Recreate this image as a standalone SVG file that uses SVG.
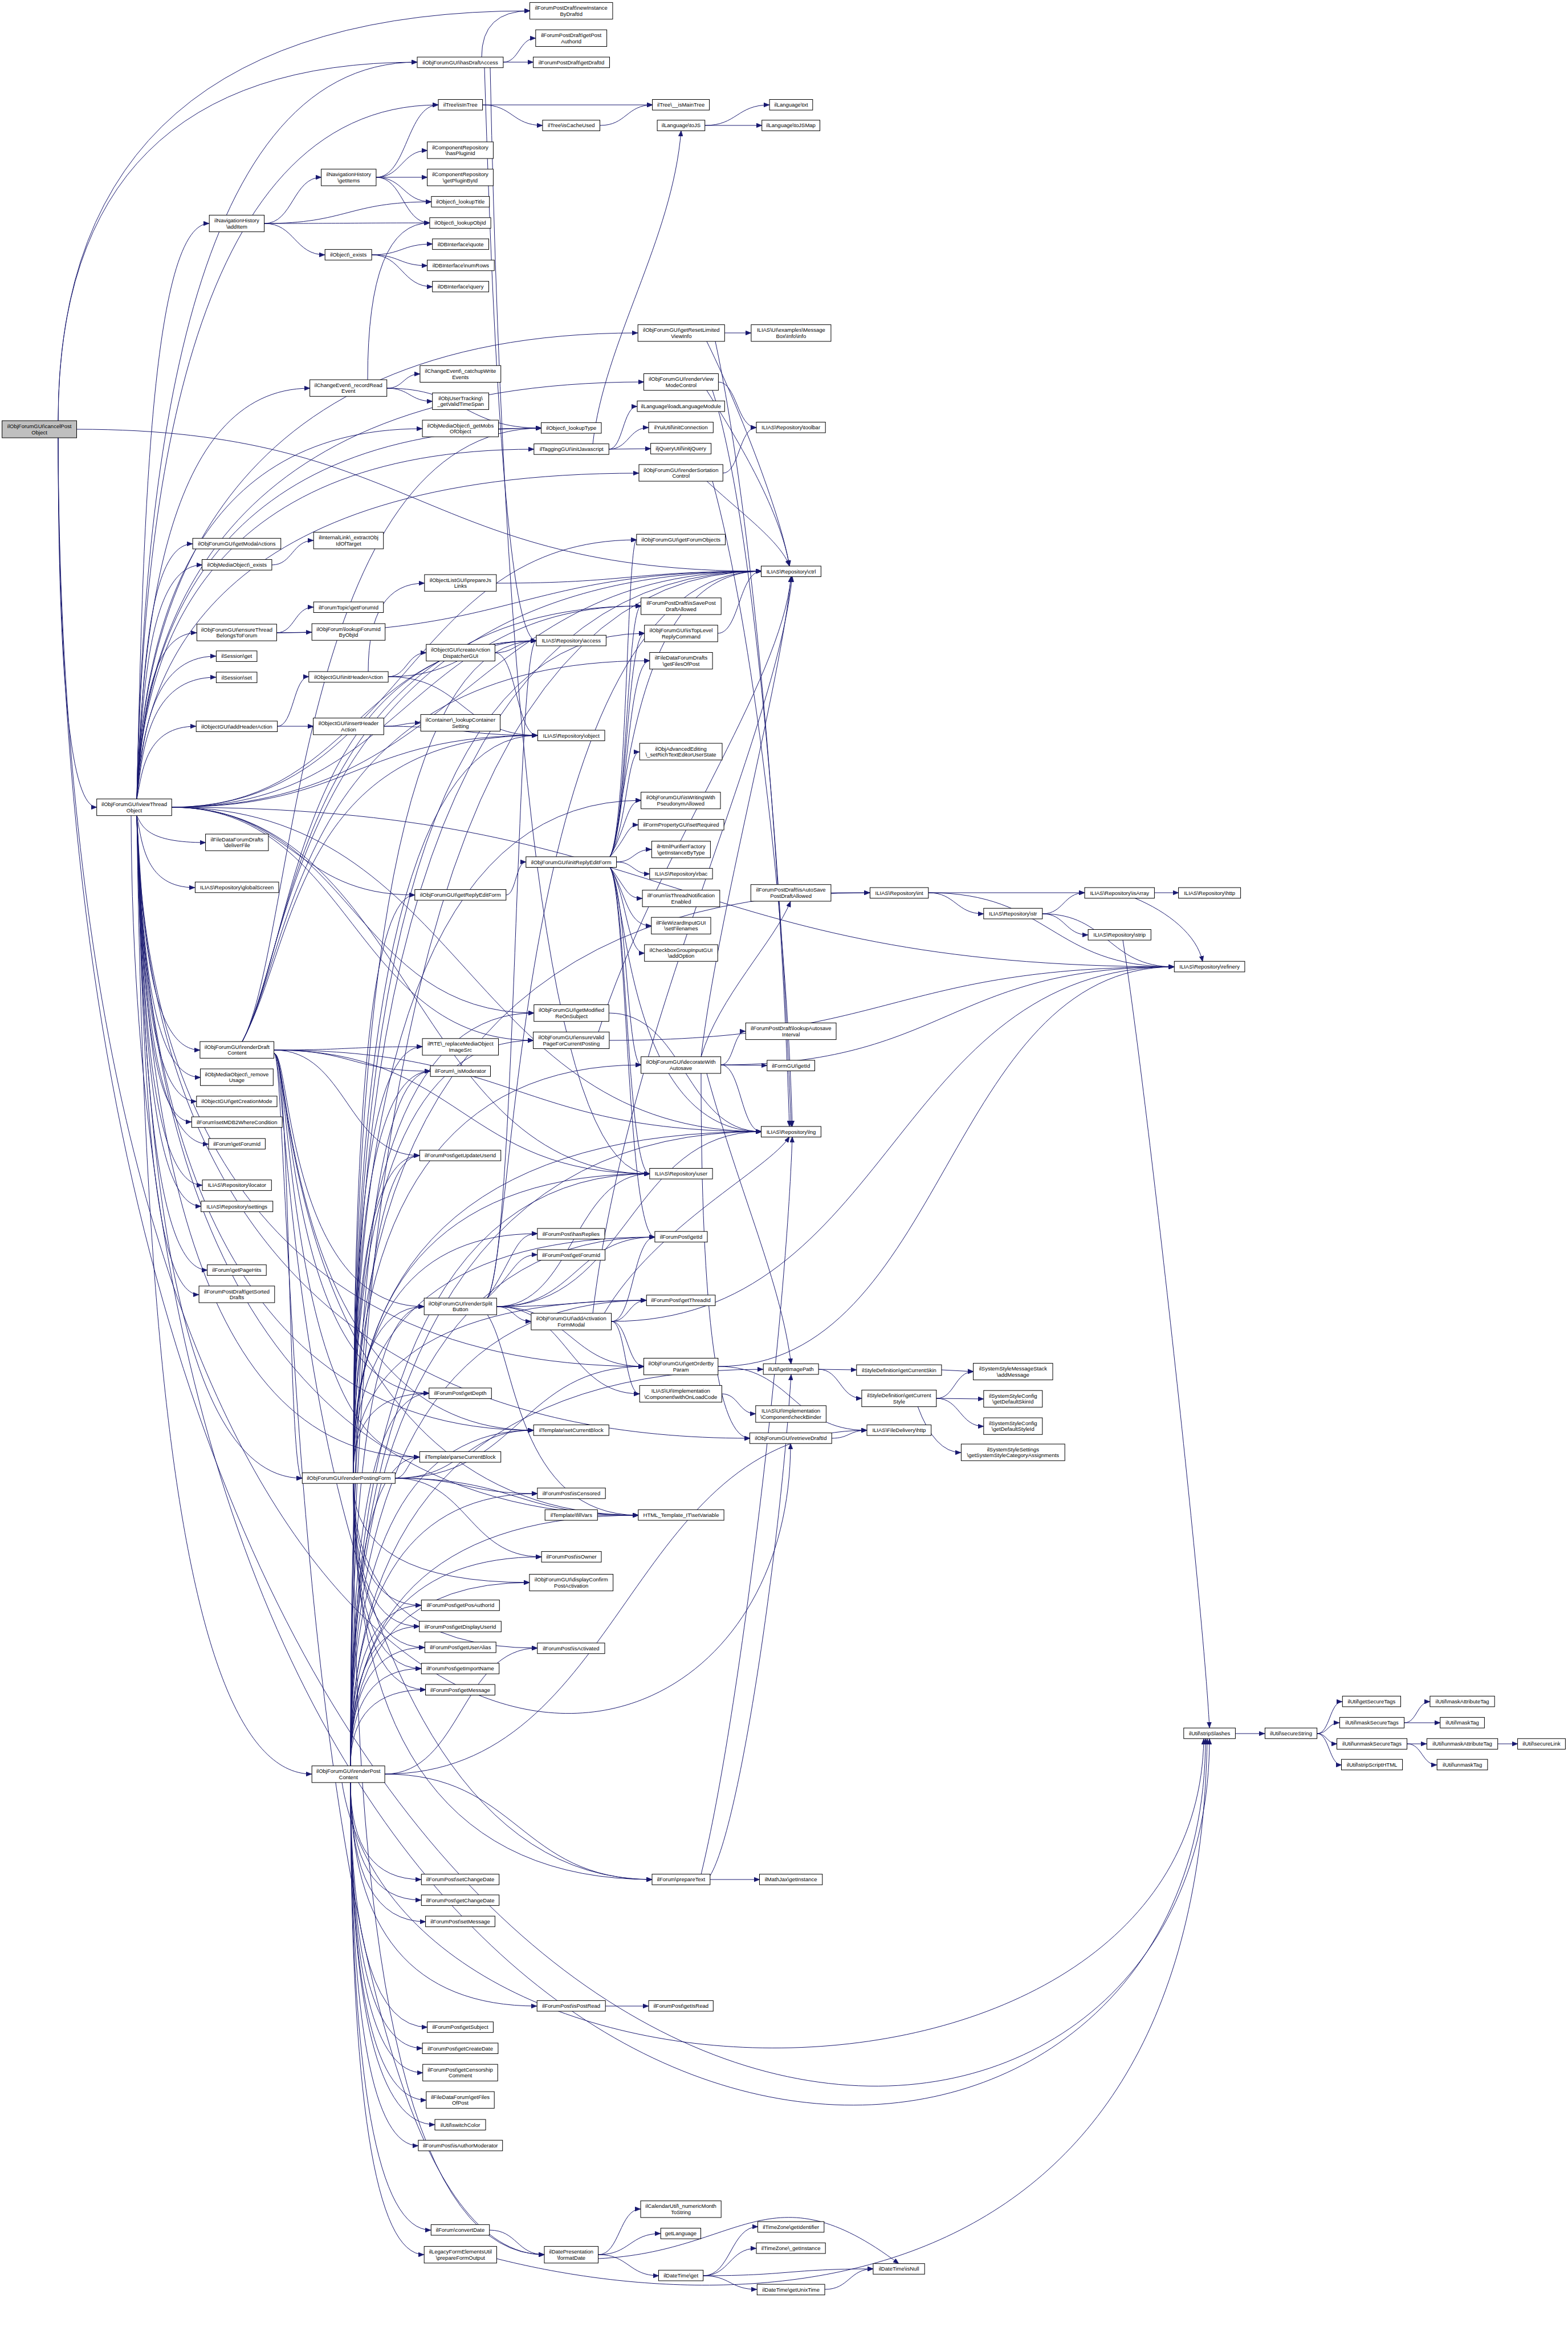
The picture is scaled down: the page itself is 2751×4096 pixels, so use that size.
<svg xmlns="http://www.w3.org/2000/svg" width="2751" height="4096" viewBox="0 0 2751 4096">
<style>
.n rect{fill:#fff;stroke:#000;stroke-width:1}
.n.root rect{fill:#bfbfbf}
.n text{font-family:"Liberation Sans",Arial,sans-serif;font-size:9.5px;text-anchor:middle;fill:#000}
#edges path{fill:none;stroke:#191970;stroke-width:1;marker-end:url(#a)}
</style>
<defs>
<marker id="a" markerUnits="userSpaceOnUse" markerWidth="10" markerHeight="8" viewBox="0 0 10 8" refX="10" refY="4" orient="auto"><path d="M0,0 L10,4 L0,8 z" fill="#191970" stroke="#191970" stroke-width="0.5"/></marker>
</defs>
<rect width="2751" height="4096" fill="#fff"/>
<g id="edges">
<path d="M102 738 Q102 19 930 19"/>
<path d="M102 738 Q102 109 732 109"/>
<path d="M102 768 Q102 1416 170 1416"/>
<path d="M102 768 C110 3400 1387 3300 1387 2532"/>
<path d="M135 753 C736 753 736 1002 1336 1002"/>
<path d="M102 768 C102 4060 2122 4100 2122 3050"/>
<path d="M240 1402 C250 998 259 392 367 392"/>
<path d="M240 1402 C250 1114 286 681 544 681"/>
<path d="M240 1402 C250 1142 315 752 741 752"/>
<path d="M240 1402 C250 1223 255 954 338 954"/>
<path d="M240 1402 C250 1238 257 991 355 991"/>
<path d="M240 1402 C250 1285 256 1110 345 1110"/>
<path d="M240 1402 C250 1302 261 1151 379 1151"/>
<path d="M240 1402 C250 1316 261 1188 379 1188"/>
<path d="M240 1402 C250 1351 256 1274 344 1274"/>
<path d="M240 1402 C250 885 314 109 732 109"/>
<path d="M240 1402 C250 1142 347 751 950 751"/>
<path d="M240 1402 C250 1156 345 788 937 788"/>
<path d="M240 1402 C250 1075 372 584 1119 584"/>
<path d="M240 1402 C250 1109 374 670 1130 670"/>
<path d="M240 1402 C250 1173 372 830 1121 830"/>
<path d="M240 1402 C250 915 319 184 769 184"/>
<path d="M301 1416 C709 1416 709 947 1117 947"/>
<path d="M301 1416 C713 1416 713 1063 1125 1063"/>
<path d="M301 1416 C621 1416 621 1124 941 1124"/>
<path d="M301 1416 C622 1416 622 1290 943 1290"/>
<path d="M301 1416 C818 1416 818 1002 1336 1002"/>
<path d="M240 1431 C250 1450 258 1478 361 1478"/>
<path d="M240 1431 C250 1481 255 1557 342 1557"/>
<path d="M301 1416 C514 1416 514 1570 728 1570"/>
<path d="M240 1431 C250 1595 257 1842 351 1842"/>
<path d="M240 1431 C250 1615 257 1890 352 1890"/>
<path d="M240 1431 C250 1631 256 1932 345 1932"/>
<path d="M240 1431 C250 1646 254 1968 336 1968"/>
<path d="M240 1431 C250 1661 259 2007 366 2007"/>
<path d="M240 1431 C250 1690 257 2079 355 2079"/>
<path d="M240 1431 C250 1705 257 2116 353 2116"/>
<path d="M240 1431 C250 1750 259 2228 364 2228"/>
<path d="M240 1431 C250 1767 256 2271 349 2271"/>
<path d="M240 1431 C250 1896 284 2593 530 2593"/>
<path d="M240 1431 C250 2103 286 3112 547 3112"/>
<path d="M301 1416 C619 1416 619 1777 937 1777"/>
<path d="M301 1416 C618 1416 618 1825 936 1825"/>
<path d="M301 1416 C818 1416 818 1985 1336 1985"/>
<path d="M301 1416 C720 1416 720 2059 1140 2059"/>
<path d="M240 1431 C250 1817 374 2397 1130 2397"/>
<path d="M301 1416 C1180 1416 1180 1696 2060 1696"/>
<path d="M240 1431 C250 1868 401 2523 1316 2523"/>
<path d="M240 1431 C250 1862 344 2509 936 2509"/>
<path d="M240 1431 C250 1881 314 2556 736 2556"/>
<path d="M240 1431 C250 1922 372 2658 1120 2658"/>
<path d="M230 1431 C240 4085 2115 4085 2115 3050"/>
<path d="M481 1842 C611 1842 611 1836 741 1836"/>
<path d="M481 1842 C618 1842 618 1879 755 1879"/>
<path d="M481 1842 C609 1842 609 2027 736 2027"/>
<path d="M481 1848 C510 1848 505 2292 744 2292"/>
<path d="M481 1848 C510 1848 505 2593 530 2593"/>
<path d="M425 1827 C520 1650 520 1159 1140 1159"/>
<path d="M425 1827 C520 1650 520 1063 1125 1063"/>
<path d="M425 1827 C520 1650 520 751 950 751"/>
<path d="M425 1827 C520 1650 520 1124 941 1124"/>
<path d="M425 1827 C520 1650 520 1290 943 1290"/>
<path d="M425 1827 C520 1650 520 1002 1336 1002"/>
<path d="M481 1842 C908 1842 908 1985 1336 1985"/>
<path d="M481 1842 C810 1842 810 2059 1140 2059"/>
<path d="M481 1848 C510 1848 505 2509 936 2509"/>
<path d="M481 1848 C510 1848 505 2556 736 2556"/>
<path d="M481 1848 C510 1848 505 2658 1120 2658"/>
<path d="M481 1848 C510 1848 505 3955 955 3955"/>
<path d="M481 1848 C510 1848 505 3297 1144 3297"/>
<path d="M481 1848 C510 1848 505 2444 753 2444"/>
<path d="M620 2584 Q620 1570 728 1570"/>
<path d="M620 2584 Q620 1836 741 1836"/>
<path d="M620 2584 Q620 1879 755 1879"/>
<path d="M620 2584 Q620 2027 736 2027"/>
<path d="M620 2584 Q620 2292 744 2292"/>
<path d="M620 2584 Q620 2444 753 2444"/>
<path d="M693 2593 C715 2593 715 2556 736 2556"/>
<path d="M620 2584 Q620 2164 943 2164"/>
<path d="M620 2584 Q620 2170 1149 2170"/>
<path d="M620 2584 Q620 2281 1134 2281"/>
<path d="M693 2593 C912 2593 912 2397 1130 2397"/>
<path d="M693 2593 C815 2593 815 2509 936 2509"/>
<path d="M620 2584 Q620 1002 1336 1002"/>
<path d="M620 2584 Q620 1985 1336 1985"/>
<path d="M620 2584 Q620 2059 1140 2059"/>
<path d="M620 2584 Q620 1124 941 1124"/>
<path d="M620 2584 Q620 1290 943 1290"/>
<path d="M620 2584 Q620 1777 937 1777"/>
<path d="M620 2584 Q620 1825 936 1825"/>
<path d="M620 2584 Q620 1868 1125 1868"/>
<path d="M620 2584 Q620 1404 1125 1404"/>
<path d="M620 2584 Q620 1566 1526 1566"/>
<path d="M620 2584 Q620 1111 1131 1111"/>
<path d="M693 2593 C818 2593 818 2620 943 2620"/>
<path d="M693 2593 C906 2593 906 2658 1120 2658"/>
<path d="M693 2593 C821 2593 821 2731 950 2731"/>
<path d="M620 2602 Q620 2776 929 2776"/>
<path d="M620 2602 Q620 2891 943 2891"/>
<path d="M620 2602 Q620 2816 739 2816"/>
<path d="M620 2602 Q620 2853 736 2853"/>
<path d="M620 2602 Q620 2890 745 2890"/>
<path d="M620 2602 Q620 2927 739 2927"/>
<path d="M620 2602 Q620 2964 747 2964"/>
<path d="M620 2602 Q620 3297 1144 3297"/>
<path d="M620 2602 Q620 3955 955 3955"/>
<path d="M615 3098 Q615 2816 739 2816"/>
<path d="M615 3098 Q615 2853 736 2853"/>
<path d="M615 3098 Q615 2890 745 2890"/>
<path d="M615 3098 Q615 2927 739 2927"/>
<path d="M615 3098 Q615 2964 747 2964"/>
<path d="M615 3098 Q615 2292 744 2292"/>
<path d="M615 3098 Q615 1879 755 1879"/>
<path d="M615 3098 Q615 2027 736 2027"/>
<path d="M615 3098 Q615 2444 753 2444"/>
<path d="M615 3098 Q615 2556 736 2556"/>
<path d="M615 3098 Q615 2731 950 2731"/>
<path d="M615 3098 Q615 2776 929 2776"/>
<path d="M675 3112 C809 3112 809 2891 943 2891"/>
<path d="M615 3098 Q615 2620 943 2620"/>
<path d="M615 3098 Q615 2509 936 2509"/>
<path d="M615 3098 Q615 2658 1120 2658"/>
<path d="M615 3098 Q615 2170 1149 2170"/>
<path d="M615 3098 Q615 2281 1134 2281"/>
<path d="M615 3098 Q615 1985 1336 1985"/>
<path d="M615 3098 Q615 1002 1336 1002"/>
<path d="M615 3098 Q615 2059 1140 2059"/>
<path d="M615 3098 Q615 2402 1339 2402"/>
<path d="M675 3112 C1098 3112 1098 2509 1521 2509"/>
<path d="M675 3112 C910 3112 910 3297 1144 3297"/>
<path d="M615 3127 Q615 3519 942 3519"/>
<path d="M615 3127 Q615 3297 739 3297"/>
<path d="M615 3127 Q615 3333 739 3333"/>
<path d="M615 3127 Q615 3371 747 3371"/>
<path d="M615 3127 Q615 3556 750 3556"/>
<path d="M615 3127 Q615 3593 741 3593"/>
<path d="M615 3127 Q615 3636 742 3636"/>
<path d="M615 3127 Q615 3684 748 3684"/>
<path d="M615 3127 Q615 3727 763 3727"/>
<path d="M615 3127 Q615 3764 734 3764"/>
<path d="M615 3127 Q615 3912 756 3912"/>
<path d="M615 3127 Q615 3955 744 3955"/>
<path d="M600 3127 C700 3760 2100 3760 2112 3050"/>
<path d="M855 2277 C905 2200 905 2164 943 2164"/>
<path d="M871 2292 C1010 2292 1010 2170 1149 2170"/>
<path d="M855 2277 C905 2230 905 2201 943 2201"/>
<path d="M871 2292 C1003 2292 1003 2281 1134 2281"/>
<path d="M871 2292 C902 2292 902 2318 932 2318"/>
<path d="M871 2292 C1001 2292 1001 2397 1130 2397"/>
<path d="M871 2292 C997 2292 997 2445 1122 2445"/>
<path d="M855 2277 C905 2200 905 1002 1336 1002"/>
<path d="M871 2292 C1104 2292 1104 1985 1336 1985"/>
<path d="M871 2292 C1006 2292 1006 2059 1140 2059"/>
<path d="M855 2277 C905 2200 905 1124 941 1124"/>
<path d="M855 2306 C905 2380 905 2658 1120 2658"/>
<path d="M1070 1503 C1100 1450 1100 1404 1125 1404"/>
<path d="M1070 1503 C1100 1470 1100 1447 1120 1447"/>
<path d="M1082 1512 C1112 1512 1112 1490 1143 1490"/>
<path d="M1082 1512 C1111 1512 1111 1533 1140 1533"/>
<path d="M1070 1521 C1100 1560 1100 1576 1127 1576"/>
<path d="M1070 1521 C1100 1570 1100 1624 1143 1624"/>
<path d="M1070 1521 C1100 1570 1100 1672 1131 1672"/>
<path d="M1070 1503 C1100 1450 1100 1159 1140 1159"/>
<path d="M1070 1503 C1100 1450 1100 1111 1131 1111"/>
<path d="M1070 1503 C1100 1450 1100 1063 1125 1063"/>
<path d="M1070 1503 C1100 1450 1100 1319 1122 1319"/>
<path d="M1070 1503 C1100 1450 1100 947 1117 947"/>
<path d="M1070 1521 C1100 1570 1100 1985 1336 1985"/>
<path d="M1070 1521 C1100 1570 1100 2059 1140 2059"/>
<path d="M1070 1503 C1100 1450 1100 1002 1336 1002"/>
<path d="M1070 1521 C1100 1570 1100 1868 1125 1868"/>
<path d="M1070 1521 C1100 1570 1100 2170 1149 2170"/>
<path d="M888 1570 C905 1570 905 1512 923 1512"/>
<path d="M845 100 Q845 19 930 19"/>
<path d="M883 109 C911 109 911 67 940 67"/>
<path d="M883 109 L936 109"/>
<path d="M860 118 Q900 2059 1140 2059"/>
<path d="M850 118 Q880 1124 941 1124"/>
<path d="M464 392 C514 392 514 311 564 311"/>
<path d="M464 392 C610 392 610 354 757 354"/>
<path d="M464 392 C609 392 609 391 754 391"/>
<path d="M464 392 C517 392 517 447 570 447"/>
<path d="M660 311 C714 311 714 184 769 184"/>
<path d="M660 311 C705 311 705 264 750 264"/>
<path d="M660 311 L750 311"/>
<path d="M660 311 C708 311 708 354 757 354"/>
<path d="M660 311 C707 311 707 391 754 391"/>
<path d="M652 447 C705 447 705 428 759 428"/>
<path d="M652 447 C701 447 701 466 750 466"/>
<path d="M652 447 C705 447 705 503 759 503"/>
<path d="M847 184 L1145 184"/>
<path d="M847 184 C899 184 899 220 952 220"/>
<path d="M1053 220 C1099 220 1099 184 1145 184"/>
<path d="M1237 220 C1293 220 1293 184 1350 184"/>
<path d="M1237 220 L1337 220"/>
<path d="M679 681 C708 681 708 656 737 656"/>
<path d="M679 681 C719 681 719 704 759 704"/>
<path d="M645 666 Q645 391 754 391"/>
<path d="M679 681 C814 681 814 751 950 751"/>
<path d="M875 752 L950 751"/>
<path d="M477 991 C513 991 513 948 550 948"/>
<path d="M485 1110 C517 1110 517 1065 550 1065"/>
<path d="M485 1110 L547 1109"/>
<path d="M485 1110 C910 1110 910 1002 1336 1002"/>
<path d="M646 1178 Q646 1023 745 1023"/>
<path d="M681 1187 C714 1187 714 1145 748 1145"/>
<path d="M681 1187 C811 1187 811 1124 941 1124"/>
<path d="M681 1187 C812 1187 812 1290 943 1290"/>
<path d="M868 1145 C905 1145 905 1124 941 1124"/>
<path d="M868 1145 C906 1145 906 1290 943 1290"/>
<path d="M487 1274 C515 1274 515 1187 542 1187"/>
<path d="M487 1274 L550 1274"/>
<path d="M673 1274 C706 1274 706 1268 738 1268"/>
<path d="M673 1274 C808 1274 808 1290 943 1290"/>
<path d="M871 1023 C1104 1023 1104 1002 1336 1002"/>
<path d="M1040 779 C1060 600 1180 420 1195 229"/>
<path d="M1068 788 C1093 788 1093 713 1118 713"/>
<path d="M1068 788 C1103 788 1103 750 1138 750"/>
<path d="M1068 788 L1142 787"/>
<path d="M1271 584 L1318 584"/>
<path d="M1240 599 C1290 700 1370 900 1385 993"/>
<path d="M1255 599 C1320 900 1370 1500 1385 1976"/>
<path d="M1260 670 C1293 670 1293 750 1327 750"/>
<path d="M1240 685 C1300 780 1370 900 1385 993"/>
<path d="M1250 685 C1320 900 1370 1500 1388 1976"/>
<path d="M1268 830 C1297 830 1297 750 1327 750"/>
<path d="M1240 844 C1300 900 1370 950 1385 993"/>
<path d="M1250 844 C1320 1100 1380 1600 1390 1976"/>
<path d="M1259 1111 C1297 1111 1297 1002 1336 1002"/>
<path d="M1230 1854 C1260 1750 1360 1650 1387 1581"/>
<path d="M1265 1868 C1287 1868 1287 1809 1308 1809"/>
<path d="M1265 1868 L1346 1869"/>
<path d="M1265 1868 C1300 1868 1300 1985 1336 1985"/>
<path d="M1230 1854 C1260 1600 1370 1200 1388 1011"/>
<path d="M1240 1883 C1300 2100 1370 2250 1388 2393"/>
<path d="M1230 1883 Q1230 2523 1316 2523"/>
<path d="M1265 1868 C1662 1868 1662 1696 2060 1696"/>
<path d="M1458 1566 L1526 1566"/>
<path d="M1629 1566 L1903 1566"/>
<path d="M1629 1566 C1677 1566 1677 1603 1726 1603"/>
<path d="M1629 1566 C1844 1566 1844 1696 2060 1696"/>
<path d="M1829 1603 C1866 1603 1866 1566 1903 1566"/>
<path d="M1829 1603 C1869 1603 1869 1640 1909 1640"/>
<path d="M1829 1603 C1944 1603 1944 1696 2060 1696"/>
<path d="M2025 1566 L2068 1566"/>
<path d="M1990 1575 C2050 1600 2100 1640 2110 1687"/>
<path d="M1970 1649 C2010 1900 2110 2800 2122 3031"/>
<path d="M2167 3041 L2219 3041"/>
<path d="M2311 3041 C2333 3041 2333 2985 2355 2985"/>
<path d="M2311 3041 C2330 3041 2330 3022 2350 3022"/>
<path d="M2311 3041 C2328 3041 2328 3059 2346 3059"/>
<path d="M2311 3041 C2332 3041 2332 3096 2354 3096"/>
<path d="M2464 3022 C2486 3022 2486 2985 2509 2985"/>
<path d="M2464 3022 L2527 3022"/>
<path d="M2469 3059 L2503 3059"/>
<path d="M2469 3059 C2495 3059 2495 3096 2521 3096"/>
<path d="M2628 3059 L2663 3059"/>
<path d="M1436 2402 L1503 2403"/>
<path d="M1436 2402 C1474 2402 1474 2453 1512 2453"/>
<path d="M1652 2403 L1708 2406"/>
<path d="M1643 2453 C1675 2453 1675 2406 1708 2406"/>
<path d="M1643 2453 L1726 2454"/>
<path d="M1643 2453 C1684 2453 1684 2502 1726 2502"/>
<path d="M1610 2467 Q1640 2548 1686 2548"/>
<path d="M1266 2445 C1296 2445 1296 2480 1326 2480"/>
<path d="M1459 2523 C1490 2523 1490 2509 1521 2509"/>
<path d="M1260 2397 C1390 2397 1390 2509 1521 2509"/>
<path d="M1260 2397 C1660 2397 1660 1696 2060 1696"/>
<path d="M1073 2318 C1111 2318 1111 2170 1149 2170"/>
<path d="M1073 2318 C1103 2318 1103 2281 1134 2281"/>
<path d="M1073 2318 C1101 2318 1101 2397 1130 2397"/>
<path d="M1073 2318 C1097 2318 1097 2445 1122 2445"/>
<path d="M1040 2304 C1100 1800 1360 1300 1390 1011"/>
<path d="M1060 2304 C1150 2150 1350 2050 1385 1994"/>
<path d="M1073 2318 C1566 2318 1566 1696 2060 1696"/>
<path d="M1246 3297 L1333 3297"/>
<path d="M1246 3290 C1300 3200 1370 2700 1388 2411"/>
<path d="M1230 3288 C1300 3000 1380 2300 1390 1994"/>
<path d="M1062 3519 L1138 3519"/>
<path d="M1050 3955 C1087 3955 1087 3875 1124 3875"/>
<path d="M1050 3955 C1105 3955 1105 3918 1159 3918"/>
<path d="M1050 3955 C1103 3955 1103 3992 1156 3992"/>
<path d="M1050 3962 C1300 3950 1350 3800 1577 3971"/>
<path d="M1234 3992 C1282 3992 1282 3906 1330 3906"/>
<path d="M1234 3992 C1280 3992 1280 3944 1327 3944"/>
<path d="M1234 3992 C1383 3992 1383 3980 1532 3980"/>
<path d="M1234 3992 C1281 3992 1281 4016 1328 4016"/>
<path d="M1447 4016 C1490 4016 1490 3980 1532 3980"/>
<path d="M859 3912 C907 3912 907 3955 955 3955"/>
<path d="M871 3962 C1300 4070 2100 4070 2118 3050"/>
<path d="M1048 2658 L1120 2658"/>
<path d="M1068 1777 C1202 1777 1202 1985 1336 1985"/>
<path d="M1050 1810 C1150 1500 1370 1200 1388 1011"/>
<path d="M1069 1825 C1565 1825 1565 1696 2060 1696"/>
</g>
<g id="n_root" class="n root"><rect x="3.6" y="738" width="130.9" height="30"/><text x="69.1" y="751">ilObjForumGUI\cancelPost</text><text x="69.1" y="761.6">Object</text></g>
<g id="n_hasDraftAccess" class="n"><rect x="732" y="100.1" width="150.9" height="18.6"/><text x="807.5" y="112.7">ilObjForumGUI\hasDraftAccess</text></g>
<g id="n_isInTree" class="n"><rect x="769" y="174.5" width="77.6" height="18.6"/><text x="807.8" y="187.1">ilTree\isInTree</text></g>
<g id="n_hasPluginId" class="n"><rect x="749.6" y="248.9" width="115.8" height="29.2"/><text x="807.5" y="261.5">ilComponentRepository</text><text x="807.5" y="272.1">\hasPluginId</text></g>
<g id="n_navGetItems" class="n"><rect x="563.6" y="296.7" width="96.3" height="29.2"/><text x="611.8" y="309.3">ilNavigationHistory</text><text x="611.8" y="319.9">\getItems</text></g>
<g id="n_getPluginById" class="n"><rect x="749.6" y="296.7" width="115.8" height="29.2"/><text x="807.5" y="309.3">ilComponentRepository</text><text x="807.5" y="319.9">\getPluginById</text></g>
<g id="n_lookupTitle" class="n"><rect x="756.9" y="344.6" width="101.8" height="18.6"/><text x="807.8" y="357.2">ilObject\_lookupTitle</text></g>
<g id="n_navAddItem" class="n"><rect x="367.2" y="377.4" width="96.4" height="29.2"/><text x="415.4" y="390">ilNavigationHistory</text><text x="415.4" y="400.6">\addItem</text></g>
<g id="n_lookupObjId" class="n"><rect x="753.9" y="381.8" width="107.2" height="18.6"/><text x="807.5" y="394.4">ilObject\_lookupObjId</text></g>
<g id="n_dbQuote" class="n"><rect x="758.7" y="419" width="98.8" height="18.6"/><text x="808.1" y="431.6">ilDBInterface\quote</text></g>
<g id="n_objExists" class="n"><rect x="570.2" y="437.6" width="81.9" height="18.6"/><text x="611.2" y="450.2">ilObject\_exists</text></g>
<g id="n_dbNumRows" class="n"><rect x="749.6" y="456.2" width="117.6" height="18.6"/><text x="808.4" y="468.8">ilDBInterface\numRows</text></g>
<g id="n_dbQuery" class="n"><rect x="758.7" y="493.4" width="98.8" height="18.6"/><text x="808.1" y="506">ilDBInterface\query</text></g>
<g id="n_catchupWrite" class="n"><rect x="736.9" y="641.3" width="141.8" height="29.2"/><text x="807.8" y="653.9">ilChangeEvent\_catchupWrite</text><text x="807.8" y="664.5">Events</text></g>
<g id="n_recordRead" class="n"><rect x="543.6" y="666.1" width="135.1" height="29.2"/><text x="611.2" y="678.7">ilChangeEvent\_recordRead</text><text x="611.2" y="689.3">Event</text></g>
<g id="n_getValidTimeSpan" class="n"><rect x="758.7" y="689.2" width="98.8" height="29.2"/><text x="808.1" y="701.8">ilObjUserTracking\</text><text x="808.1" y="712.4">_getValidTimeSpan</text></g>
<g id="n_getMobsOfObject" class="n"><rect x="741.1" y="737" width="133.4" height="29.2"/><text x="807.8" y="749.6">ilObjMediaObject\_getMobs</text><text x="807.8" y="760.2">OfObject</text></g>
<g id="n_getModalActions" class="n"><rect x="338.1" y="944.3" width="154.6" height="18.6"/><text x="415.4" y="956.9">ilObjForumGUI\getModalActions</text></g>
<g id="n_extractObjId" class="n"><rect x="550.2" y="933.6" width="122.5" height="29.2"/><text x="611.5" y="946.2">ilInternalLink\_extractObj</text><text x="611.5" y="956.8">IdOfTarget</text></g>
<g id="n_mobExists" class="n"><rect x="354.5" y="981.5" width="122.4" height="18.6"/><text x="415.7" y="994.1">ilObjMediaObject\_exists</text></g>
<g id="n_prepareJsLinks" class="n"><rect x="744.8" y="1008" width="126" height="29.2"/><text x="807.8" y="1020.6">ilObjectListGUI\prepareJs</text><text x="807.8" y="1031.2">Links</text></g>
<g id="n_topicGetForumId" class="n"><rect x="550.2" y="1055.9" width="122.5" height="18.6"/><text x="611.5" y="1068.5">ilForumTopic\getForumId</text></g>
<g id="n_ensureThread" class="n"><rect x="345.4" y="1094.9" width="140" height="29.2"/><text x="415.4" y="1107.5">ilObjForumGUI\ensureThread</text><text x="415.4" y="1118.1">BelongsToForum</text></g>
<g id="n_lookupForumId" class="n"><rect x="547.2" y="1094" width="128.5" height="29.2"/><text x="611.5" y="1106.6">ilObjForum\lookupForumId</text><text x="611.5" y="1117.2">ByObjId</text></g>
<g id="n_sessionGet" class="n"><rect x="379.4" y="1141.8" width="71.5" height="18.6"/><text x="415.2" y="1154.4">ilSession\get</text></g>
<g id="n_createAction" class="n"><rect x="747.8" y="1130.3" width="120.6" height="29.2"/><text x="808.1" y="1142.9">ilObjectGUI\createAction</text><text x="808.1" y="1153.5">DispatcherGUI</text></g>
<g id="n_sessionSet" class="n"><rect x="379.4" y="1179" width="71.5" height="18.6"/><text x="415.2" y="1191.6">ilSession\set</text></g>
<g id="n_initHeader" class="n"><rect x="541.8" y="1178.1" width="139.3" height="18.6"/><text x="611.5" y="1190.7">ilObjectGUI\initHeaderAction</text></g>
<g id="n_addHeader" class="n"><rect x="344.2" y="1264.9" width="142.4" height="18.6"/><text x="415.4" y="1277.5">ilObjectGUI\addHeaderAction</text></g>
<g id="n_insertHeader" class="n"><rect x="549.6" y="1259.6" width="123.7" height="29.2"/><text x="611.5" y="1272.2">ilObjectGUI\insertHeader</text><text x="611.5" y="1282.8">Action</text></g>
<g id="n_lookupContainer" class="n"><rect x="738.1" y="1253.4" width="139.4" height="29.2"/><text x="807.8" y="1266">ilContainer\_lookupContainer</text><text x="807.8" y="1276.6">Setting</text></g>
<g id="n_newInstance" class="n"><rect x="929.5" y="4.4" width="145.4" height="29.2"/><text x="1002.2" y="17">ilForumPostDraft\newInstance</text><text x="1002.2" y="27.6">ByDraftId</text></g>
<g id="n_getPostAuthorId" class="n"><rect x="939.8" y="52.3" width="124.8" height="29.2"/><text x="1002.2" y="64.9">ilForumPostDraft\getPost</text><text x="1002.2" y="75.5">AuthorId</text></g>
<g id="n_getDraftId" class="n"><rect x="935.6" y="100.1" width="133.9" height="18.6"/><text x="1002.6" y="112.7">ilForumPostDraft\getDraftId</text></g>
<g id="n_isMainTree" class="n"><rect x="1144.6" y="174.5" width="100" height="18.6"/><text x="1194.6" y="187.1">ilTree\__isMainTree</text></g>
<g id="n_langTxt" class="n"><rect x="1350.1" y="174.5" width="75.7" height="18.6"/><text x="1388" y="187.1">ilLanguage\txt</text></g>
<g id="n_isCacheUsed" class="n"><rect x="951.9" y="210.8" width="100.6" height="18.6"/><text x="1002.2" y="223.4">ilTree\isCacheUsed</text></g>
<g id="n_toJS" class="n"><rect x="1153.1" y="210.8" width="83.6" height="18.6"/><text x="1194.9" y="223.4">ilLanguage\toJS</text></g>
<g id="n_toJSMap" class="n"><rect x="1336.7" y="210.8" width="101.8" height="18.6"/><text x="1387.6" y="223.4">ilLanguage\toJSMap</text></g>
<g id="n_resetLimited" class="n"><rect x="1119.2" y="569.6" width="152.1" height="29.2"/><text x="1195.3" y="582.2">ilObjForumGUI\getResetLimited</text><text x="1195.3" y="592.8">ViewInfo</text></g>
<g id="n_msgBoxInfo" class="n"><rect x="1317.9" y="569.6" width="140" height="29.2"/><text x="1387.9" y="582.2">ILIAS\UI\examples\Message</text><text x="1387.9" y="592.8">Box\Info\info</text></g>
<g id="n_renderViewMode" class="n"><rect x="1129.5" y="655.5" width="130.9" height="29.2"/><text x="1195" y="668.1">ilObjForumGUI\renderView</text><text x="1195" y="678.7">ModeControl</text></g>
<g id="n_loadLangModule" class="n"><rect x="1118" y="703.3" width="153.3" height="18.6"/><text x="1194.7" y="715.9">ilLanguage\loadLanguageModule</text></g>
<g id="n_lookupType" class="n"><rect x="949.5" y="741.4" width="105.5" height="18.6"/><text x="1002.3" y="754">ilObject\_lookupType</text></g>
<g id="n_yuiInit" class="n"><rect x="1138" y="740.5" width="113.3" height="18.6"/><text x="1194.7" y="753.1">ilYuiUtil\initConnection</text></g>
<g id="n_toolbar" class="n"><rect x="1327" y="740.5" width="121.2" height="18.6"/><text x="1387.6" y="753.1">ILIAS\Repository\toolbar</text></g>
<g id="n_taggingInitJs" class="n"><rect x="936.8" y="778.6" width="131.5" height="18.6"/><text x="1002.6" y="791.2">ilTaggingGUI\initJavascript</text></g>
<g id="n_jqueryInit" class="n"><rect x="1141.6" y="777.7" width="106" height="18.6"/><text x="1194.6" y="790.3">iljQueryUtil\initjQuery</text></g>
<g id="n_sortation" class="n"><rect x="1121" y="814.9" width="147.3" height="29.2"/><text x="1194.7" y="827.5">ilObjForumGUI\renderSortation</text><text x="1194.7" y="838.1">Control</text></g>
<g id="n_getForumObjects" class="n"><rect x="1116.8" y="937.2" width="155.7" height="18.6"/><text x="1194.7" y="949.8">ilObjForumGUI\getForumObjects</text></g>
<g id="n_ctrl" class="n"><rect x="1335.5" y="993" width="104.9" height="18.6"/><text x="1388" y="1005.6">ILIAS\Repository\ctrl</text></g>
<g id="n_isSaveDraft" class="n"><rect x="1124.6" y="1048.8" width="140.6" height="29.2"/><text x="1194.9" y="1061.4">ilForumPostDraft\isSavePost</text><text x="1194.9" y="1072">DraftAllowed</text></g>
<g id="n_isTopLevel" class="n"><rect x="1130.7" y="1096.6" width="128.5" height="29.2"/><text x="1195" y="1109.2">ilObjForumGUI\isTopLevel</text><text x="1195" y="1119.8">ReplyCommand</text></g>
<g id="n_access" class="n"><rect x="941" y="1114.3" width="122.4" height="18.6"/><text x="1002.2" y="1126.9">ILIAS\Repository\access</text></g>
<g id="n_getFilesOfPostDrafts" class="n"><rect x="1139.8" y="1144.5" width="110.3" height="29.2"/><text x="1195" y="1157.1">ilFileDataForumDrafts</text><text x="1195" y="1167.7">\getFilesOfPost</text></g>
<g id="n_repoObject" class="n"><rect x="943.4" y="1280.9" width="117.6" height="18.6"/><text x="1002.2" y="1293.5">ILIAS\Repository\object</text></g>
<g id="n_richText" class="n"><rect x="1122.2" y="1303.9" width="144.8" height="29.2"/><text x="1194.6" y="1316.5">ilObjAdvancedEditing</text><text x="1194.6" y="1327.1">\_setRichTextEditorUserState</text></g>
<g id="n_viewThread" class="n"><rect x="169.7" y="1401.5" width="131.5" height="29.2"/><text x="235.5" y="1414.1">ilObjForumGUI\viewThread</text><text x="235.5" y="1424.7">Object</text></g>
<g id="n_deliverFile" class="n"><rect x="360.6" y="1463.1" width="110.3" height="29.2"/><text x="415.8" y="1475.7">ilFileDataForumDrafts</text><text x="415.8" y="1486.3">\deliverFile</text></g>
<g id="n_globalScreen" class="n"><rect x="342.4" y="1547.2" width="146.6" height="18.6"/><text x="415.7" y="1559.8">ILIAS\Repository\globalScreen</text></g>
<g id="n_getReplyEditForm" class="n"><rect x="727.8" y="1560.5" width="160" height="18.6"/><text x="807.8" y="1573.1">ilObjForumGUI\getReplyEditForm</text></g>
<g id="n_renderDraft" class="n"><rect x="350.9" y="1827.1" width="129.7" height="29.2"/><text x="415.8" y="1839.7">ilObjForumGUI\renderDraft</text><text x="415.8" y="1850.3">Content</text></g>
<g id="n_replaceMob" class="n"><rect x="741.1" y="1821.8" width="133.4" height="29.2"/><text x="807.8" y="1834.4">ilRTE\_replaceMediaObject</text><text x="807.8" y="1845">ImageSrc</text></g>
<g id="n_removeUsage" class="n"><rect x="351.5" y="1875" width="127.8" height="29.2"/><text x="415.4" y="1887.6">ilObjMediaObject\_remove</text><text x="415.4" y="1898.2">Usage</text></g>
<g id="n_isModerator" class="n"><rect x="755.1" y="1869.7" width="105.4" height="18.6"/><text x="807.8" y="1882.3">ilForum\_isModerator</text></g>
<g id="n_getCreationMode" class="n"><rect x="344.8" y="1922.8" width="141.2" height="18.6"/><text x="415.4" y="1935.4">ilObjectGUI\getCreationMode</text></g>
<g id="n_setMDB2" class="n"><rect x="336.3" y="1959.1" width="158.8" height="18.6"/><text x="415.7" y="1971.7">ilForum\setMDB2WhereCondition</text></g>
<g id="n_forumGetForumId" class="n"><rect x="366" y="1997.2" width="99.4" height="18.6"/><text x="415.7" y="2009.8">ilForum\getForumId</text></g>
<g id="n_getUpdateUserId" class="n"><rect x="736.3" y="2017.6" width="142.4" height="18.6"/><text x="807.5" y="2030.2">ilForumPost\getUpdateUserId</text></g>
<g id="n_locator" class="n"><rect x="355.1" y="2069.8" width="121.2" height="18.6"/><text x="415.7" y="2082.4">ILIAS\Repository\locator</text></g>
<g id="n_settings" class="n"><rect x="352.7" y="2107" width="126" height="18.6"/><text x="415.7" y="2119.6">ILIAS\Repository\settings</text></g>
<g id="n_getPageHits" class="n"><rect x="363.6" y="2218.7" width="103.6" height="18.6"/><text x="415.4" y="2231.3">ilForum\getPageHits</text></g>
<g id="n_getSortedDrafts" class="n"><rect x="349.1" y="2255.9" width="132.7" height="29.2"/><text x="415.5" y="2268.5">ilForumPostDraft\getSorted</text><text x="415.5" y="2279.1">Drafts</text></g>
<g id="n_renderSplit" class="n"><rect x="744.2" y="2277.1" width="127.2" height="29.2"/><text x="807.8" y="2289.7">ilObjForumGUI\renderSplit</text><text x="807.8" y="2300.3">Button</text></g>
<g id="n_getDepth" class="n"><rect x="752.7" y="2434.8" width="109.6" height="18.6"/><text x="807.5" y="2447.4">ilForumPost\getDepth</text></g>
<g id="n_parseCurrentBlock" class="n"><rect x="736.3" y="2546.4" width="142.4" height="18.6"/><text x="807.5" y="2559">ilTemplate\parseCurrentBlock</text></g>
<g id="n_renderPostingForm" class="n"><rect x="530.3" y="2583.6" width="163" height="18.6"/><text x="611.8" y="2596.2">ilObjForumGUI\renderPostingForm</text></g>
<g id="n_isWritingPseudo" class="n"><rect x="1124.6" y="1389.6" width="139.4" height="29.2"/><text x="1194.3" y="1402.2">ilObjForumGUI\isWritingWith</text><text x="1194.3" y="1412.8">PseudonymAllowed</text></g>
<g id="n_setRequired" class="n"><rect x="1119.8" y="1437.4" width="150.3" height="18.6"/><text x="1195" y="1450">ilFormPropertyGUI\setRequired</text></g>
<g id="n_htmlPurifier" class="n"><rect x="1143.4" y="1475.5" width="103" height="29.2"/><text x="1194.9" y="1488.1">ilHtmlPurifierFactory</text><text x="1194.9" y="1498.7">\getInstanceByType</text></g>
<g id="n_initReplyEditForm" class="n"><rect x="922.8" y="1502.9" width="158.8" height="18.6"/><text x="1002.2" y="1515.5">ilObjForumGUI\initReplyEditForm</text></g>
<g id="n_rbac" class="n"><rect x="1139.8" y="1523.3" width="110.3" height="18.6"/><text x="1195" y="1535.9">ILIAS\Repository\rbac</text></g>
<g id="n_isAutoSave" class="n"><rect x="1317.3" y="1551.7" width="140.6" height="29.2"/><text x="1387.6" y="1564.3">ilForumPostDraft\isAutoSave</text><text x="1387.6" y="1574.9">PostDraftAllowed</text></g>
<g id="n_repoInt" class="n"><rect x="1526.4" y="1557" width="102.4" height="18.6"/><text x="1577.6" y="1569.6">ILIAS\Repository\int</text></g>
<g id="n_threadNotif" class="n"><rect x="1127.1" y="1561.4" width="135.7" height="29.2"/><text x="1195" y="1574">ilForum\isThreadNotification</text><text x="1195" y="1584.6">Enabled</text></g>
<g id="n_repoStr" class="n"><rect x="1725.8" y="1593.3" width="103" height="18.6"/><text x="1777.3" y="1605.9">ILIAS\Repository\str</text></g>
<g id="n_fileWizard" class="n"><rect x="1142.8" y="1609.2" width="104.2" height="29.2"/><text x="1194.9" y="1621.8">ilFileWizardInputGUI</text><text x="1194.9" y="1632.4">\setFilenames</text></g>
<g id="n_checkboxGroup" class="n"><rect x="1130.7" y="1657.1" width="128.5" height="29.2"/><text x="1195" y="1669.7">ilCheckboxGroupInputGUI</text><text x="1195" y="1680.3">\addOption</text></g>
<g id="n_getModifiedRe" class="n"><rect x="936.8" y="1762.5" width="131.5" height="29.2"/><text x="1002.6" y="1775.1">ilObjForumGUI\getModified</text><text x="1002.6" y="1785.7">ReOnSubject</text></g>
<g id="n_lookupAutosave" class="n"><rect x="1308.3" y="1794.4" width="158.7" height="29.2"/><text x="1387.7" y="1807">ilForumPostDraft\lookupAutosave</text><text x="1387.7" y="1817.6">Interval</text></g>
<g id="n_ensureValidPage" class="n"><rect x="935.6" y="1810.3" width="133.3" height="29.2"/><text x="1002.3" y="1822.9">ilObjForumGUI\ensureValid</text><text x="1002.3" y="1833.5">PageForCurrentPosting</text></g>
<g id="n_decorateAutosave" class="n"><rect x="1124.6" y="1853.7" width="140" height="29.2"/><text x="1194.6" y="1866.3">ilObjForumGUI\decorateWith</text><text x="1194.6" y="1876.9">Autosave</text></g>
<g id="n_formGetId" class="n"><rect x="1345.8" y="1859.9" width="83.7" height="18.6"/><text x="1387.7" y="1872.5">ilFormGUI\getId</text></g>
<g id="n_lng" class="n"><rect x="1335.5" y="1976" width="104.9" height="18.6"/><text x="1388" y="1988.6">ILIAS\Repository\lng</text></g>
<g id="n_user" class="n"><rect x="1139.8" y="2049.5" width="110.3" height="18.6"/><text x="1195" y="2062.1">ILIAS\Repository\user</text></g>
<g id="n_hasReplies" class="n"><rect x="942.8" y="2154.9" width="118.2" height="18.6"/><text x="1001.9" y="2167.5">ilForumPost\hasReplies</text></g>
<g id="n_postGetId" class="n"><rect x="1148.9" y="2160.2" width="92.1" height="18.6"/><text x="1195" y="2172.8">ilForumPost\getId</text></g>
<g id="n_postGetForumId" class="n"><rect x="942.8" y="2192.1" width="118.8" height="18.6"/><text x="1002.2" y="2204.7">ilForumPost\getForumId</text></g>
<g id="n_getThreadId" class="n"><rect x="1134.3" y="2271.8" width="120.6" height="18.6"/><text x="1194.6" y="2284.4">ilForumPost\getThreadId</text></g>
<g id="n_addActivation" class="n"><rect x="931.9" y="2303.7" width="140.6" height="29.2"/><text x="1002.2" y="2316.3">ilObjForumGUI\addActivation</text><text x="1002.2" y="2326.9">FormModal</text></g>
<g id="n_getOrderBy" class="n"><rect x="1129.5" y="2382.5" width="130.3" height="29.2"/><text x="1194.7" y="2395.1">ilObjForumGUI\getOrderBy</text><text x="1194.7" y="2405.7">Param</text></g>
<g id="n_getImagePath" class="n"><rect x="1339.2" y="2392.3" width="96.9" height="18.6"/><text x="1387.7" y="2404.9">ilUtil\getImagePath</text></g>
<g id="n_getCurrentSkin" class="n"><rect x="1502.8" y="2394.1" width="149.1" height="18.6"/><text x="1577.4" y="2406.7">ilStyleDefinition\getCurrentSkin</text></g>
<g id="n_addMessage" class="n"><rect x="1707.6" y="2391.4" width="139.4" height="29.2"/><text x="1777.3" y="2404">ilSystemStyleMessageStack</text><text x="1777.3" y="2414.6">\addMessage</text></g>
<g id="n_withOnLoadCode" class="n"><rect x="1122.2" y="2430.4" width="144.2" height="29.2"/><text x="1194.3" y="2443">ILIAS\UI\Implementation</text><text x="1194.3" y="2453.6">\Component\withOnLoadCode</text></g>
<g id="n_getCurrentStyle" class="n"><rect x="1511.9" y="2438.4" width="130.9" height="29.2"/><text x="1577.4" y="2451">ilStyleDefinition\getCurrent</text><text x="1577.4" y="2461.6">Style</text></g>
<g id="n_defaultSkinId" class="n"><rect x="1725.8" y="2439.2" width="103" height="29.2"/><text x="1777.3" y="2451.8">ilSystemStyleConfig</text><text x="1777.3" y="2462.4">\getDefaultSkinId</text></g>
<g id="n_checkBinder" class="n"><rect x="1325.8" y="2465.8" width="123.6" height="29.2"/><text x="1387.6" y="2478.4">ILIAS\UI\Implementation</text><text x="1387.6" y="2489">\Component\checkBinder</text></g>
<g id="n_defaultStyleId" class="n"><rect x="1725.8" y="2487.1" width="103" height="29.2"/><text x="1777.3" y="2499.7">ilSystemStyleConfig</text><text x="1777.3" y="2510.3">\getDefaultStyleId</text></g>
<g id="n_setCurrentBlock" class="n"><rect x="936.2" y="2499.5" width="132.1" height="18.6"/><text x="1002.3" y="2512.1">ilTemplate\setCurrentBlock</text></g>
<g id="n_fileDeliveryHttp" class="n"><rect x="1521" y="2499.5" width="112.7" height="18.6"/><text x="1577.4" y="2512.1">ILIAS\FileDelivery\http</text></g>
<g id="n_retrieveDraftId" class="n"><rect x="1315.5" y="2513.6" width="143.7" height="18.6"/><text x="1387.4" y="2526.2">ilObjForumGUI\retrieveDraftId</text></g>
<g id="n_styleCatAssign" class="n"><rect x="1686.4" y="2533.1" width="181.8" height="29.2"/><text x="1777.3" y="2545.7">ilSystemStyleSettings</text><text x="1777.3" y="2556.3">\getSystemStyleCategoryAssignments</text></g>
<g id="n_isCensored" class="n"><rect x="942.8" y="2610.2" width="119.4" height="18.6"/><text x="1002.5" y="2622.8">ilForumPost\isCensored</text></g>
<g id="n_fillVars" class="n"><rect x="956.2" y="2648.3" width="92.1" height="18.6"/><text x="1002.3" y="2660.9">ilTemplate\fillVars</text></g>
<g id="n_setVariable" class="n"><rect x="1119.8" y="2648.3" width="150.3" height="18.6"/><text x="1195" y="2660.9">HTML_Template_IT\setVariable</text></g>
<g id="n_isOwner" class="n"><rect x="950.1" y="2721.6" width="104.9" height="18.6"/><text x="1002.6" y="2734.2">ilForumPost\isOwner</text></g>
<g id="n_isArray" class="n"><rect x="1903" y="1557" width="122.4" height="18.6"/><text x="1964.2" y="1569.6">ILIAS\Repository\isArray</text></g>
<g id="n_repoHttp" class="n"><rect x="2067.6" y="1557" width="109" height="18.6"/><text x="2122.1" y="1569.6">ILIAS\Repository\http</text></g>
<g id="n_strip" class="n"><rect x="1909.1" y="1630.5" width="110.2" height="18.6"/><text x="1964.2" y="1643.1">ILIAS\Repository\strip</text></g>
<g id="n_refinery" class="n"><rect x="2060.3" y="1686.3" width="123.6" height="18.6"/><text x="2122.1" y="1698.9">ILIAS\Repository\refinery</text></g>
<g id="n_getPosAuthorId" class="n"><rect x="739.3" y="2806.7" width="137" height="18.6"/><text x="807.8" y="2819.3">ilForumPost\getPosAuthorId</text></g>
<g id="n_getDisplayUserId" class="n"><rect x="735.7" y="2844" width="143.6" height="18.6"/><text x="807.5" y="2856.6">ilForumPost\getDisplayUserId</text></g>
<g id="n_getUserAlias" class="n"><rect x="745.4" y="2880.4" width="124.8" height="18.6"/><text x="807.8" y="2893">ilForumPost\getUserAlias</text></g>
<g id="n_getImportName" class="n"><rect x="739.3" y="2917.6" width="136.4" height="18.6"/><text x="807.5" y="2930.2">ilForumPost\getImportName</text></g>
<g id="n_getMessage" class="n"><rect x="746.6" y="2954.9" width="121.8" height="18.6"/><text x="807.5" y="2967.5">ilForumPost\getMessage</text></g>
<g id="n_renderPostContent" class="n"><rect x="547.2" y="3097.7" width="127.9" height="29.2"/><text x="611.2" y="3110.3">ilObjForumGUI\renderPost</text><text x="611.2" y="3120.9">Content</text></g>
<g id="n_setChangeDate" class="n"><rect x="739.3" y="3287.6" width="136.4" height="18.6"/><text x="807.5" y="3300.2">ilForumPost\setChangeDate</text></g>
<g id="n_getChangeDate" class="n"><rect x="739.3" y="3324" width="136.4" height="18.6"/><text x="807.5" y="3336.6">ilForumPost\getChangeDate</text></g>
<g id="n_setMessage" class="n"><rect x="746.6" y="3361.2" width="121.8" height="18.6"/><text x="807.5" y="3373.8">ilForumPost\setMessage</text></g>
<g id="n_getSubject" class="n"><rect x="749.6" y="3546.7" width="115.8" height="18.6"/><text x="807.5" y="3559.3">ilForumPost\getSubject</text></g>
<g id="n_getCreateDate" class="n"><rect x="741.1" y="3583.9" width="132.8" height="18.6"/><text x="807.5" y="3596.5">ilForumPost\getCreateDate</text></g>
<g id="n_getCensorship" class="n"><rect x="741.7" y="3621.2" width="131.5" height="29.2"/><text x="807.5" y="3633.8">ilForumPost\getCensorship</text><text x="807.5" y="3644.4">Comment</text></g>
<g id="n_getFilesOfPostForum" class="n"><rect x="747.8" y="3669.1" width="119.4" height="29.2"/><text x="807.5" y="3681.7">ilFileDataForum\getFiles</text><text x="807.5" y="3692.3">OfPost</text></g>
<g id="n_switchColor" class="n"><rect x="763" y="3717.9" width="89" height="18.6"/><text x="807.5" y="3730.5">ilUtil\switchColor</text></g>
<g id="n_isAuthorModerator" class="n"><rect x="733.9" y="3754.3" width="147.8" height="18.6"/><text x="807.8" y="3766.9">ilForumPost\isAuthorModerator</text></g>
<g id="n_convertDate" class="n"><rect x="756.3" y="3902.4" width="102.4" height="18.6"/><text x="807.5" y="3915">ilForum\convertDate</text></g>
<g id="n_prepareFormOutput" class="n"><rect x="744.2" y="3940.6" width="127.2" height="29.2"/><text x="807.8" y="3953.2">ilLegacyFormElementsUtil</text><text x="807.8" y="3963.8">\prepareFormOutput</text></g>
<g id="n_displayConfirm" class="n"><rect x="928.9" y="2761.5" width="146.7" height="29.2"/><text x="1002.2" y="2774.1">ilObjForumGUI\displayConfirm</text><text x="1002.2" y="2784.7">PostActivation</text></g>
<g id="n_isActivated" class="n"><rect x="942.8" y="2882.1" width="118.2" height="18.6"/><text x="1001.9" y="2894.7">ilForumPost\isActivated</text></g>
<g id="n_prepareText" class="n"><rect x="1144" y="3287.6" width="101.8" height="18.6"/><text x="1194.9" y="3300.2">ilForum\prepareText</text></g>
<g id="n_mathJax" class="n"><rect x="1332.5" y="3287.6" width="110.3" height="18.6"/><text x="1387.6" y="3300.2">ilMathJax\getInstance</text></g>
<g id="n_isPostRead" class="n"><rect x="942.2" y="3509.4" width="120" height="18.6"/><text x="1002.2" y="3522">ilForumPost\isPostRead</text></g>
<g id="n_getIsRead" class="n"><rect x="1138" y="3509.4" width="113.3" height="18.6"/><text x="1194.7" y="3522">ilForumPost\getIsRead</text></g>
<g id="n_numericMonth" class="n"><rect x="1124" y="3860.7" width="141.2" height="29.2"/><text x="1194.6" y="3873.3">ilCalendarUtil\_numericMonth</text><text x="1194.6" y="3883.9">ToString</text></g>
<g id="n_getLanguage" class="n"><rect x="1159.2" y="3908.6" width="70.3" height="18.6"/><text x="1194.4" y="3921.2">getLanguage</text></g>
<g id="n_tzGetIdentifier" class="n"><rect x="1329.5" y="3897.1" width="116.3" height="18.6"/><text x="1387.7" y="3909.7">ilTimeZone\getIdentifier</text></g>
<g id="n_formatDate" class="n"><rect x="955" y="3940.6" width="94.5" height="29.2"/><text x="1002.3" y="3953.2">ilDatePresentation</text><text x="1002.3" y="3963.8">\formatDate</text></g>
<g id="n_tzGetInstance" class="n"><rect x="1327" y="3934.4" width="121.2" height="18.6"/><text x="1387.6" y="3947">ilTimeZone\_getInstance</text></g>
<g id="n_dateTimeGet" class="n"><rect x="1155.5" y="3982.3" width="78.2" height="18.6"/><text x="1194.6" y="3994.9">ilDateTime\get</text></g>
<g id="n_isNull" class="n"><rect x="1531.9" y="3970.7" width="90.3" height="18.6"/><text x="1577.1" y="3983.3">ilDateTime\isNull</text></g>
<g id="n_getUnixTime" class="n"><rect x="1328.3" y="4007.1" width="118.7" height="18.6"/><text x="1387.7" y="4019.7">ilDateTime\getUnixTime</text></g>
<g id="n_stripSlashes" class="n"><rect x="2076.8" y="3031.2" width="90.6" height="18.6"/><text x="2122.1" y="3043.8">ilUtil\stripSlashes</text></g>
<g id="n_secureString" class="n"><rect x="2219.4" y="3031.2" width="91.2" height="18.6"/><text x="2265" y="3043.8">ilUtil\secureString</text></g>
<g id="n_getSecureTags" class="n"><rect x="2355.3" y="2975.3" width="102.2" height="18.6"/><text x="2406.4" y="2987.9">ilUtil\getSecureTags</text></g>
<g id="n_maskAttributeTag" class="n"><rect x="2508.9" y="2975.3" width="113.3" height="18.6"/><text x="2565.6" y="2987.9">ilUtil\maskAttributeTag</text></g>
<g id="n_maskSecureTags" class="n"><rect x="2350.4" y="3012.6" width="113.2" height="18.6"/><text x="2407" y="3025.2">ilUtil\maskSecureTags</text></g>
<g id="n_maskTag" class="n"><rect x="2526.7" y="3012.6" width="77.7" height="18.6"/><text x="2565.6" y="3025.2">ilUtil\maskTag</text></g>
<g id="n_unmaskSecureTags" class="n"><rect x="2345.5" y="3049.8" width="123" height="18.6"/><text x="2407" y="3062.4">ilUtil\unmaskSecureTags</text></g>
<g id="n_unmaskAttributeTag" class="n"><rect x="2503.4" y="3049.8" width="124.3" height="18.6"/><text x="2565.6" y="3062.4">ilUtil\unmaskAttributeTag</text></g>
<g id="n_secureLink" class="n"><rect x="2662.6" y="3049.8" width="83.8" height="18.6"/><text x="2704.5" y="3062.4">ilUtil\secureLink</text></g>
<g id="n_stripScriptHTML" class="n"><rect x="2353.5" y="3086.2" width="107.1" height="18.6"/><text x="2407" y="3098.8">ilUtil\stripScriptHTML</text></g>
<g id="n_unmaskTag" class="n"><rect x="2521.2" y="3086.2" width="88.7" height="18.6"/><text x="2565.6" y="3098.8">ilUtil\unmaskTag</text></g>
</svg>
